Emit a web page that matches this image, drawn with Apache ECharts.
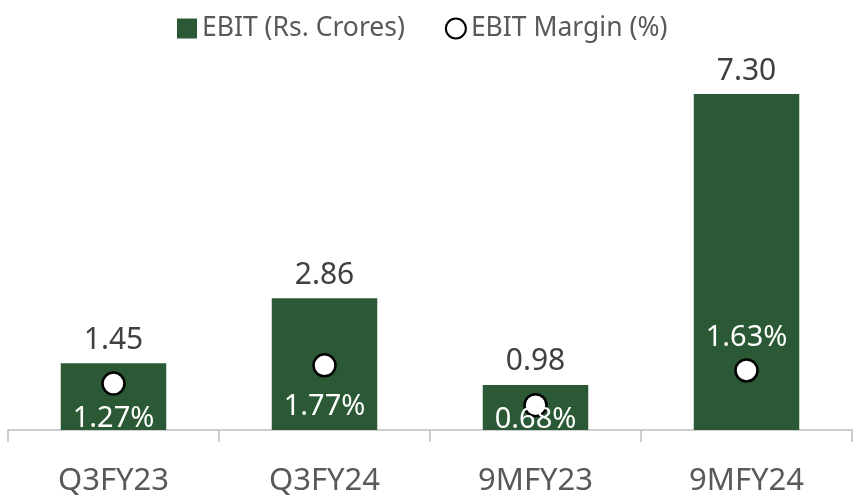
<!DOCTYPE html>
<html>
<head>
<meta charset="utf-8">
<script src="https://cdn.jsdelivr.net/npm/echarts@6/dist/echarts.min.js"></script>
<style>
  html, body { margin: 0; padding: 0; background: #fff; }
  #chart { width: 863px; height: 498px; }
</style>
</head>
<body>
<div id="chart"></div>
<script>
// EBIT bars + margin markers
const categories = ['Q3FY23', 'Q3FY24', '9MFY23', '9MFY24']
const ebit = [1.45, 2.86, 0.98, 7.30]
const margin = [1.27, 1.77, 0.68, 1.63]
const marginLabelPos = ['bottom', 'bottom', 'bottom', 'top']
const marginLabelDist = [8, 15, -12, 6]

const green = '#2c5935'
const font = 'Noto Sans'

const chart = echarts.init(document.getElementById('chart'), null, { renderer: 'canvas' })

const option = {
  animation: false,
  textStyle: { fontFamily: font },
  legend: {
    top: 10,
    left: 172,
    itemGap: 40,
    itemWidth: 20,
    itemHeight: 20,
    textStyle: { fontSize: 26.5, color: '#595959', fontFamily: font },
    data: [
      { name: 'EBIT (Rs. Crores)', icon: 'rect' },
      { name: 'EBIT Margin (%)', icon: 'circle', itemStyle: { color: '#fff', borderColor: '#000', borderWidth: 2 } }
    ]
  },
  grid: { left: 8, right: 11, top: 94, bottom: 68, containLabel: false },
  xAxis: {
    type: 'category',
    data: categories,
    axisLine: { lineStyle: { color: '#bfbfbf', width: 1.5 } },
    axisTick: { show: true, length: 12, lineStyle: { color: '#bfbfbf', width: 1.5 } },
    axisLabel: { fontSize: 31, color: '#595959', margin: 36, fontFamily: font }
  },
  yAxis: [
    { type: 'value', min: 0, max: 7.3, show: false, splitLine: { show: false } },
    { type: 'value', min: 0, max: 9.2, show: false, splitLine: { show: false } }
  ],
  series: [
    {
      name: 'EBIT (Rs. Crores)',
      type: 'bar',
      barWidth: '50%',
      data: ebit,
      itemStyle: { color: green },
      label: {
        show: true,
        position: 'top',
        distance: 8,
        fontSize: 30,
        color: '#404040',
        fontFamily: font,
        formatter: p => p.value.toFixed(2)
      }
    },
    {
      name: 'EBIT Margin (%)',
      type: 'line',
      yAxisIndex: 1,
      z: 5,
      symbol: 'circle',
      symbolSize: 22,
      lineStyle: { width: 0, opacity: 0 },
      itemStyle: { color: '#fff', borderColor: '#000', borderWidth: 2.5 },
      data: margin.map((v, i) => ({
        value: v,
        label: { position: marginLabelPos[i], distance: marginLabelDist[i] }
      })),
      label: {
        show: true,
        fontSize: 29,
        color: '#fff',
        fontFamily: font,
        formatter: p => p.value.toFixed(2) + '%'
      }
    }
  ]
}

chart.setOption(option)
</script>
</body>
</html>
